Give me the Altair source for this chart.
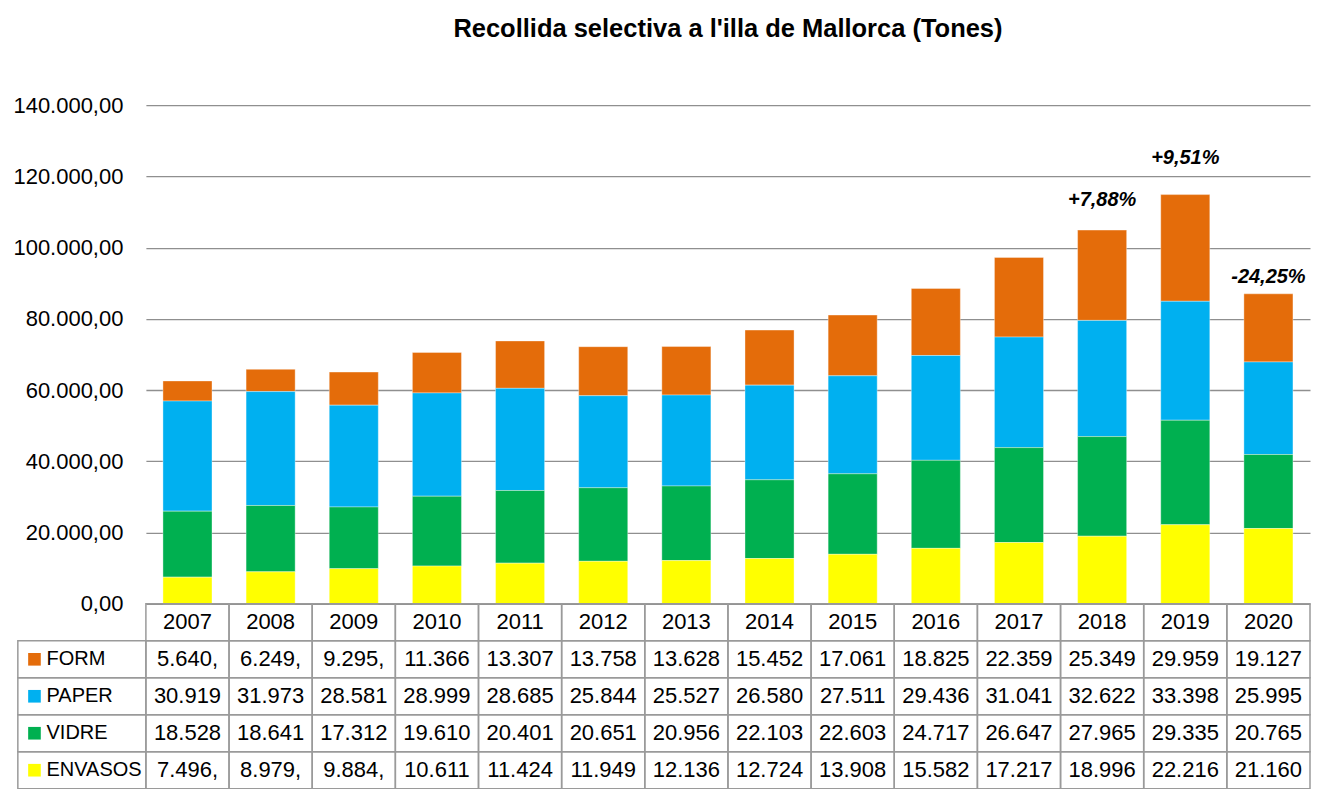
import altair as alt
import pandas as pd

# ---------------- data ----------------
years = [2007, 2008, 2009, 2010, 2011, 2012, 2013, 2014, 2015, 2016, 2017, 2018, 2019, 2020]
series = ["FORM", "PAPER", "VIDRE", "ENVASOS"]
colors = ["#E46C0A", "#00B0F0", "#00B050", "#FFFF00"]

form = [5640, 6249, 9295, 11366, 13307, 13758, 13628, 15452, 17061, 18825, 22359, 25349, 29959, 19127]
paper = [30919, 31973, 28581, 28999, 28685, 25844, 25527, 26580, 27511, 29436, 31041, 32622, 33398, 25995]
vidre = [18528, 18641, 17312, 19610, 20401, 20651, 20956, 22103, 22603, 24717, 26647, 27965, 29335, 20765]
envasos = [7496, 8979, 9884, 10611, 11424, 11949, 12136, 12724, 13908, 15582, 17217, 18996, 22216, 21160]

pct_years = [2018, 2019, 2020]
pct_labels = ["+7,88%", "+9,51%", "-24,25%"]

y_ticks = [0, 20000, 40000, 60000, 80000, 100000, 120000, 140000]
title_text = "Recollida selectiva a l'illa de  Mallorca (Tones)"

# ---------------- styles ----------------
FONT = "Liberation Sans"
PLOT_W = 1165
PLOT_H = 499
ROW_H = 37
LEGEND_COL = 1.54       # width of legend column, in table-column units
GRID = "#8f8f8f"
BORDER = "#9a9a9a"

values_by_series = {"FORM": form, "PAPER": paper, "VIDRE": vidre, "ENVASOS": envasos}
stack_order = {"ENVASOS": 0, "VIDRE": 1, "PAPER": 2, "FORM": 3}

rows = []
for s in series:
    for yr, v in zip(years, values_by_series[s]):
        rows.append({"year": yr, "series": s, "value": v, "order": stack_order[s]})
df = pd.DataFrame(rows)

totals = {yr: f + p + v + e for yr, f, p, v, e in zip(years, form, paper, vidre, envasos)}
lab_df = pd.DataFrame({"year": pct_years, "label": pct_labels,
                       "total": [totals[y] for y in pct_years]})

label_expr = ("replace(replace(replace(format(datum.value, ',.2f'), ',', '_'), '.', ','), '_', '.')")

x_enc = alt.X("year:O", scale=alt.Scale(domain=years, paddingInner=0.41, paddingOuter=0.205), axis=None)
y_scale = alt.Scale(domain=[0, 140000], nice=False, zero=True)

bars = alt.Chart(df).mark_bar(stroke="white", strokeWidth=0.6, strokeOpacity=0.6).encode(
    x=x_enc,
    y=alt.Y("value:Q", stack="zero", scale=y_scale,
            axis=alt.Axis(values=y_ticks, labelExpr=label_expr, title=None, grid=True,
                          gridColor=GRID, gridWidth=1.3, ticks=False, domain=False,
                          labelFont=FONT, labelFontSize=22, labelColor="black",
                          labelPadding=23, labelFlush=False, labelOverlap=False)),
    color=alt.Color("series:N", scale=alt.Scale(domain=series, range=colors), legend=None),
    order=alt.Order("order:Q", sort="ascending"),
)

label_dy = {2018: -30, 2019: -37, 2020: -17}
label_layers = []
for yr in pct_years:
    label_layers.append(
        alt.Chart(lab_df).transform_filter(alt.datum.year == yr).mark_text(
            font=FONT, fontSize=20, fontWeight="bold", fontStyle="italic",
            color="black", dy=label_dy[yr]
        ).encode(x=x_enc, y=alt.Y("total:Q", scale=y_scale), text="label:N")
    )

top = alt.layer(bars, *label_layers).properties(
    width=PLOT_W, height=PLOT_H,
    title=alt.TitleParams(title_text, font=FONT, fontSize=25.5, fontWeight="bold",
                          color="black", anchor="middle", frame="group", offset=52),
)

# ---------------- data table ----------------
cells = []
text_rows = []
n = len(years)
for r in range(5):
    for c in range(n):
        cells.append({"x": c, "x2": c + 1, "y": r, "y2": r + 1})
for r in range(1, 5):
    cells.append({"x": -LEGEND_COL, "x2": 0, "y": r, "y2": r + 1})
cells_df = pd.DataFrame(cells)


def fmt(v):
    s = f"{v:,.2f}".replace(",", "_").replace(".", ",").replace("_", ".")
    return s[:6]


for c, yr in enumerate(years):
    text_rows.append({"x": c + 0.5, "y": 0.5, "t": str(yr)})
for r, s in enumerate(series, start=1):
    for c, v in enumerate(values_by_series[s]):
        text_rows.append({"x": c + 0.5, "y": r + 0.5, "t": fmt(v)})
text_df = pd.DataFrame(text_rows)

leg_df = pd.DataFrame({"series": series, "y": [r + 0.5 for r in range(1, 5)],
                       "xs": [-LEGEND_COL + 0.2] * 4, "xl": [-LEGEND_COL + 0.345] * 4})

tx = alt.Scale(domain=[0, n], nice=False, zero=False)
ty = alt.Scale(domain=[0, 5], nice=False, zero=False, reverse=True)

grid_rects = alt.Chart(cells_df).mark_rect(fill="white", fillOpacity=0, stroke=BORDER, strokeWidth=1.5).encode(
    x=alt.X("x:Q", scale=tx, axis=None), x2="x2:Q",
    y=alt.Y("y:Q", scale=ty, axis=None), y2="y2:Q",
)
cell_text = alt.Chart(text_df).mark_text(font=FONT, fontSize=22, color="black").encode(
    x=alt.X("x:Q", scale=tx, axis=None), y=alt.Y("y:Q", scale=ty, axis=None), text="t:N"
)
leg_sq = alt.Chart(leg_df).mark_point(shape="square", size=160, filled=True, opacity=1).encode(
    x=alt.X("xs:Q", scale=tx, axis=None), y=alt.Y("y:Q", scale=ty, axis=None),
    color=alt.Color("series:N", scale=alt.Scale(domain=series, range=colors), legend=None),
)
leg_txt = alt.Chart(leg_df).mark_text(font=FONT, fontSize=20, color="black", align="left").encode(
    x=alt.X("xl:Q", scale=tx, axis=None), y=alt.Y("y:Q", scale=ty, axis=None), text="series:N"
)

table = alt.layer(grid_rects, cell_text, leg_sq, leg_txt).properties(width=PLOT_W, height=ROW_H * 5)

chart = alt.vconcat(top, table, spacing=0, bounds="flush").properties(
    padding={"top": 8, "left": 4, "right": 0, "bottom": 0}
).configure(background="white").configure_view(stroke=None)

chart.save("out.html", embed_options={"renderer": "svg", "actions": False})
